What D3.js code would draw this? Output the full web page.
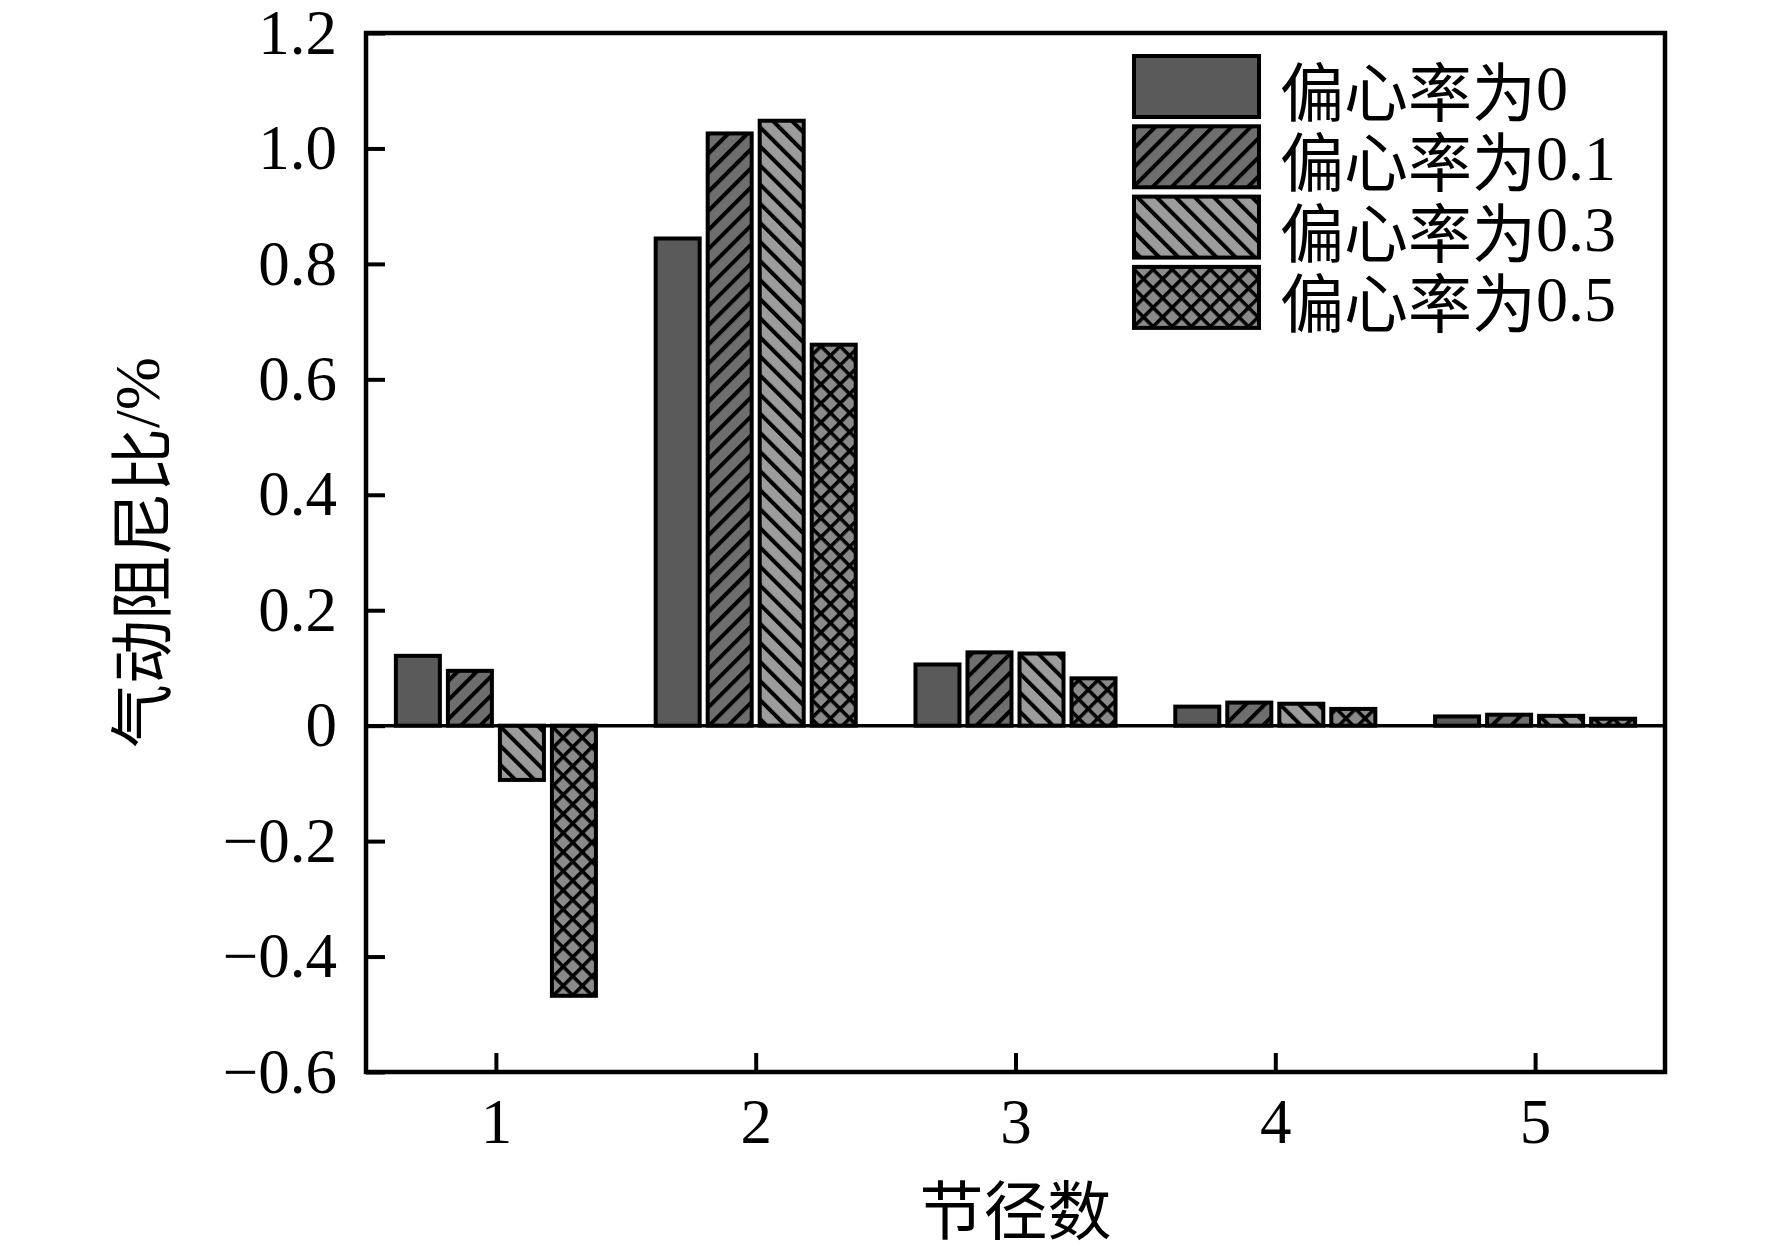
<!DOCTYPE html>
<html>
<head>
<meta charset="utf-8">
<script src="https://cdn.jsdelivr.net/npm/d3@7"></script>
<style>
  html, body { margin: 0; padding: 0; background: #fff; }
  svg text { fill: #000; }
  .cjk { font-family: "Noto Sans CJK SC", sans-serif; }
  .lat { font-family: "Liberation Serif", serif; }
</style>
</head>
<body>
<div id="container"></div>
<script>
// data
const nodeCounts = [1, 2, 3, 4, 5];
const seriesPrefix = "偏心率为";
const seriesEcc = ["0", "0.1", "0.3", "0.5"];
const seriesNames = seriesEcc.map(e => seriesPrefix + e);
const ecc0 = [0.121, 0.844, 0.106, 0.033, 0.016];
const ecc01 = [0.095, 1.026, 0.127, 0.040, 0.019];
const ecc03 = [-0.094, 1.048, 0.125, 0.038, 0.017];
const ecc05 = [-0.468, 0.660, 0.082, 0.029, 0.012];
const yTicks = [-0.6, -0.4, -0.2, 0, 0.2, 0.4, 0.6, 0.8, 1.0, 1.2];

const seriesValues = [ecc0, ecc01, ecc03, ecc05];

const width = 1772, height = 1246;
const margin = { left: 366, right: width - 1665, top: 33, bottom: height - 1072 };

const svg = d3.select("#container").append("svg")
  .attr("width", width)
  .attr("height", height);

// fill patterns for each series
const defs = svg.append("defs");
const fills = ["#5a5a5a", "#6e6e6e", "#9c9c9c", "#8a8a8a"];
const step = 13.5;

defs.append("pattern").attr("id", "p0")
  .attr("patternUnits", "userSpaceOnUse").attr("width", 10).attr("height", 10)
  .append("rect").attr("width", 10).attr("height", 10).attr("fill", fills[0]);

function stripes(id, fill, angle, cross) {
  const p = defs.append("pattern").attr("id", id)
    .attr("patternUnits", "userSpaceOnUse")
    .attr("width", step).attr("height", step)
    .attr("patternTransform", `rotate(${angle})`);
  p.append("rect").attr("width", step).attr("height", step).attr("fill", fill);
  p.append("rect").attr("x", 0).attr("y", 0).attr("width", cross ? 3.5 : 4).attr("height", step).attr("fill", "#000");
  if (cross) {
    p.append("rect").attr("x", 0).attr("y", 0).attr("width", step).attr("height", 3.5).attr("fill", "#000");
  }
}
stripes("p1", fills[1], 45, false);
stripes("p2", fills[2], -45, false);
stripes("p3", fills[3], 45, true);

const x = d3.scaleLinear().domain([0.5, 5.5]).range([margin.left, width - margin.right]);
const y = d3.scaleLinear().domain([-0.6, 1.2]).range([height - margin.bottom, margin.top]);

const inner = d3.scaleBand().domain(seriesNames)
  .range([0, x(1.385) - x(0.615)])
  .paddingInner(0.154).paddingOuter(0);

// bars
seriesValues.forEach((vals, si) => {
  svg.append("g").selectAll("rect")
    .data(vals)
    .join("rect")
    .attr("x", (d, i) => x(nodeCounts[i] - 0.385) + inner(seriesNames[si]))
    .attr("width", inner.bandwidth())
    .attr("y", d => y(Math.max(0, d)))
    .attr("height", d => Math.abs(y(d) - y(0)))
    .attr("fill", `url(#p${si})`)
    .attr("stroke", "#000")
    .attr("stroke-width", 4);
});

// zero line
svg.append("line")
  .attr("x1", x(0.5)).attr("x2", x(5.5))
  .attr("y1", y(0)).attr("y2", y(0))
  .attr("stroke", "#000").attr("stroke-width", 3.5);

// axes with inward ticks
const fmt = d => d === 0 ? "0" : d3.format(".1f")(d);
const yAxis = svg.append("g")
  .attr("transform", `translate(${margin.left},0)`)
  .call(d3.axisLeft(y).tickValues(yTicks).tickFormat(fmt)
    .tickSizeInner(-19).tickSizeOuter(0).tickPadding(29));

const xAxis = svg.append("g")
  .attr("transform", `translate(0,${height - margin.bottom})`)
  .call(d3.axisBottom(x).tickValues(nodeCounts).tickFormat(d3.format("d"))
    .tickSizeInner(-19).tickSizeOuter(0).tickPadding(26));

[yAxis, xAxis].forEach(g => {
  g.select(".domain").remove();
  g.selectAll(".tick line").attr("stroke", "#000").attr("stroke-width", 4);
  g.selectAll(".tick text").attr("font-size", 63)
    .style("font-family", "'Liberation Serif', serif");
});

// frame
svg.append("rect")
  .attr("x", margin.left).attr("y", margin.top)
  .attr("width", width - margin.left - margin.right)
  .attr("height", height - margin.top - margin.bottom)
  .attr("fill", "none").attr("stroke", "#000").attr("stroke-width", 4.5);

// axis titles
svg.append("text")
  .attr("class", "cjk")
  .attr("x", (margin.left + width - margin.right) / 2)
  .attr("y", 1206)
  .attr("text-anchor", "middle")
  .attr("dominant-baseline", "central")
  .attr("font-size", 64)
  .text("节径数");

const yTitle = svg.append("text")
  .attr("transform", `translate(137,${(margin.top + height - margin.bottom) / 2}) rotate(-90)`)
  .attr("text-anchor", "middle")
  .attr("dominant-baseline", "central")
  .attr("font-size", 64);
yTitle.append("tspan").attr("class", "cjk").text("气动阻尼比");
yTitle.append("tspan").attr("class", "lat").text("/%");

// legend
const legend = svg.append("g").attr("transform", "translate(1134,56)");
seriesEcc.forEach((e, i) => {
  const row = legend.append("g").attr("transform", `translate(0,${i * 70.3})`);
  row.append("rect")
    .attr("width", 125).attr("height", 61)
    .attr("fill", `url(#p${i})`)
    .attr("stroke", "#000").attr("stroke-width", 4);
  const t = row.append("text")
    .attr("x", 146).attr("y", 32)
    .attr("dominant-baseline", "central")
    .attr("font-size", 64);
  t.append("tspan").attr("class", "cjk").text(seriesPrefix);
  t.append("tspan").attr("class", "lat").text(e);
});
</script>
</body>
</html>
